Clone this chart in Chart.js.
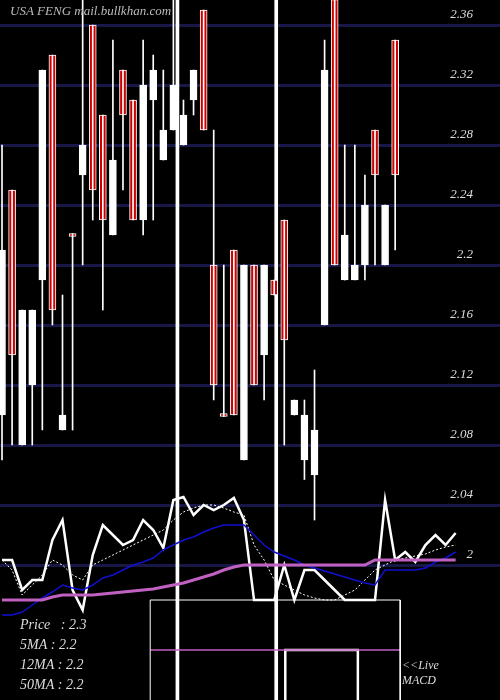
<!DOCTYPE html>
<html>
<head>
<meta charset="utf-8">
<script src="https://cdn.jsdelivr.net/npm/chart.js@4"></script>
<style>
  html, body { margin: 0; padding: 0; background: #000; }
  #wrap { width: 500px; height: 700px; }
</style>
</head>
<body>
<div id="wrap"><canvas id="myChart"></canvas></div>
<script>
/* DATA */
const opens  = [2.10,2.25,2.08,2.12,2.19,2.34,2.09,2.221,2.26,2.36,2.30,2.22,2.33,2.31,2.23,2.31,2.27,2.29,2.28,2.31,2.37,2.20,2.101,2.21,2.07,2.20,2.14,2.19,2.23,2.10,2.07,2.06,2.16,2.377,2.19,2.19,2.20,2.29,2.20,2.35];
const closes = [2.21,2.14,2.17,2.17,2.33,2.17,2.10,2.219,2.28,2.25,2.23,2.27,2.30,2.23,2.32,2.33,2.29,2.32,2.30,2.33,2.29,2.12,2.099,2.10,2.20,2.12,2.20,2.18,2.15,2.11,2.10,2.09,2.33,2.20,2.22,2.20,2.24,2.26,2.24,2.26];
const highs  = [2.28,2.25,2.17,2.17,2.33,2.34,2.18,2.221,2.377,2.36,2.30,2.35,2.33,2.31,2.35,2.34,2.33,2.377,2.31,2.33,2.37,2.29,2.20,2.21,2.20,2.20,2.20,2.19,2.23,2.11,2.11,2.13,2.35,2.377,2.28,2.28,2.26,2.29,2.24,2.35];
const lows   = [2.07,2.08,2.08,2.08,2.09,2.16,2.09,2.09,2.20,2.23,2.17,2.22,2.25,2.23,2.22,2.23,2.27,2.29,2.28,2.30,2.29,2.11,2.099,2.10,2.07,2.12,2.11,2.18,2.08,2.10,2.057,2.03,2.16,2.20,2.19,2.19,2.19,2.20,2.20,2.21];

const priceTicks = [2.36,2.32,2.28,2.24,2.2,2.16,2.12,2.08,2.04,2];

// oscillator panel (own scale, 0 at top .. 700 at bottom)
const oscPrice = [560,560,590,580,580,540,520,590,610,555,525,535,545,540,520,530,548,500,497,515,505,510,505,498,520,600,600,600,565,600,570,570,580,590,600,600,600,600,500,560,552,562,545,535,545,533];
const osc5 = [560,570,595,585,575,560,565,575,580,565,560,555,550,545,540,535,530,520,512,508,505,505,508,512,515,545,560,580,585,590,595,598,600,600,595,590,580,570,565,560,558,556,554,550,547,545];
const osc12 = [615,615,612,605,598,592,585,588,590,585,578,575,570,565,562,558,550,545,540,537,532,528,525,525,525,535,545,552,556,560,565,568,571,574,577,580,583,585,570,570,570,570,568,562,558,552];
const osc50 = [600,600,600,600,600,597,595,595,595,595,594,593,592,591,590,589,587,585,583,580,577,574,570,567,565,565,565,565,565,565,565,565,565,565,565,565,565,560,560,560,560,560,560,560,560,560];

const markerIdx = [17.4, 27.2];
const macdBox = [14.7, 39.5];
const macdStep = [28.1, 35.3];

const legendLines = ['Price   : 2.3', '5MA : 2.2', '12MA : 2.2', '50MA : 2.2'];

/* CHART */
const pts = arr => arr.map((v, i) => ({ x: i, y: v }));
const isDown = opens.map((o, i) => closes[i] < o);

const textPlugin = {
  id: 'texts',
  afterDraw(chart) {
    const ctx = chart.ctx;
    const y = chart.scales.y;
    ctx.save();
    ctx.font = 'italic 13px "Liberation Serif"';
    ctx.fillStyle = '#ddd';
    ctx.textAlign = 'right';
    ctx.textBaseline = 'middle';
    priceTicks.forEach(v => ctx.fillText(String(v), 473, y.getPixelForValue(v) - 10));
    ctx.textAlign = 'left';
    ctx.fillStyle = '#bbb';
    ctx.fillText('USA FENG mail.bullkhan.com', 10, 12);
    ctx.fillStyle = '#ddd';
    ctx.font = 'italic 14px "Liberation Serif"';
    legendLines.forEach((t, i) => ctx.fillText(t, 20, 625 + i * 20));
    ctx.font = 'italic 12px "Liberation Serif"';
    ctx.fillText('<<Live', 402, 666);
    ctx.fillText('MACD', 402, 681);
    ctx.restore();
  }
};

const lineDs = (data, color, width, dash) => ({
  type: 'line', data, yAxisID: 'y2', borderColor: color, borderWidth: width,
  borderDash: dash || [], pointRadius: 0, fill: false, tension: 0
});

new Chart(document.getElementById('myChart'), {
  type: 'bar',
  data: {
    datasets: [
      lineDs(pts(osc50), '#c060c0', 3),
      lineDs(pts(osc12), '#1010d0', 1.5),
      lineDs(pts(osc5), '#fff', 1, [2, 2]),
      lineDs(pts(oscPrice), '#fff', 2.5),
      lineDs([{x: macdBox[0], y: 700}, {x: macdBox[0], y: 600}, {x: macdBox[1], y: 600}, {x: macdBox[1], y: 700}], '#fff', 1),
      lineDs([{x: macdBox[0], y: 650}, {x: macdBox[1], y: 650}], '#c060c0', 1.5),
      lineDs([{x: macdStep[0], y: 700}, {x: macdStep[0], y: 650}, {x: macdStep[1], y: 650}, {x: macdStep[1], y: 700}], '#fff', 2.5),
      {
        data: highs.map((h, i) => ({ x: i, y: [lows[i], h] })),
        backgroundColor: '#fff', barThickness: 1, grouped: false
      },
      {
        data: opens.map((o, i) => ({ x: i, y: [Math.min(o, closes[i]), Math.max(o, closes[i])] })),
        backgroundColor: isDown.map(d => d ? '#cc0000' : '#fff'),
        borderColor: '#fff', borderWidth: 1, borderSkipped: false,
        barThickness: 7, grouped: false
      },
      {
        data: markerIdx.map(x => ({ x, y: [0, 700] })), yAxisID: 'y2',
        backgroundColor: '#fff', barThickness: 3, grouped: false
      }
    ]
  },
  options: {
    responsive: true,
    maintainAspectRatio: false,
    animation: false,
    layout: { padding: 0 },
    plugins: { legend: { display: false }, tooltip: { enabled: false } },
    scales: {
      x: { type: 'linear', min: -0.2, max: 49.4, offset: false, display: false },
      y: {
        min: 1.91, max: 2.3767,
        afterBuildTicks: axis => { axis.ticks = priceTicks.map(v => ({ value: v })); },
        afterFit: axis => { axis.width = 0; },
        ticks: { display: false, padding: 0 },
        border: { display: false },
        grid: { color: '#181848', lineWidth: 3, drawTicks: false }
      },
      y2: { min: 0, max: 700, reverse: true, display: false }
    }
  },
  plugins: [textPlugin]
});
</script>
</body>
</html>
